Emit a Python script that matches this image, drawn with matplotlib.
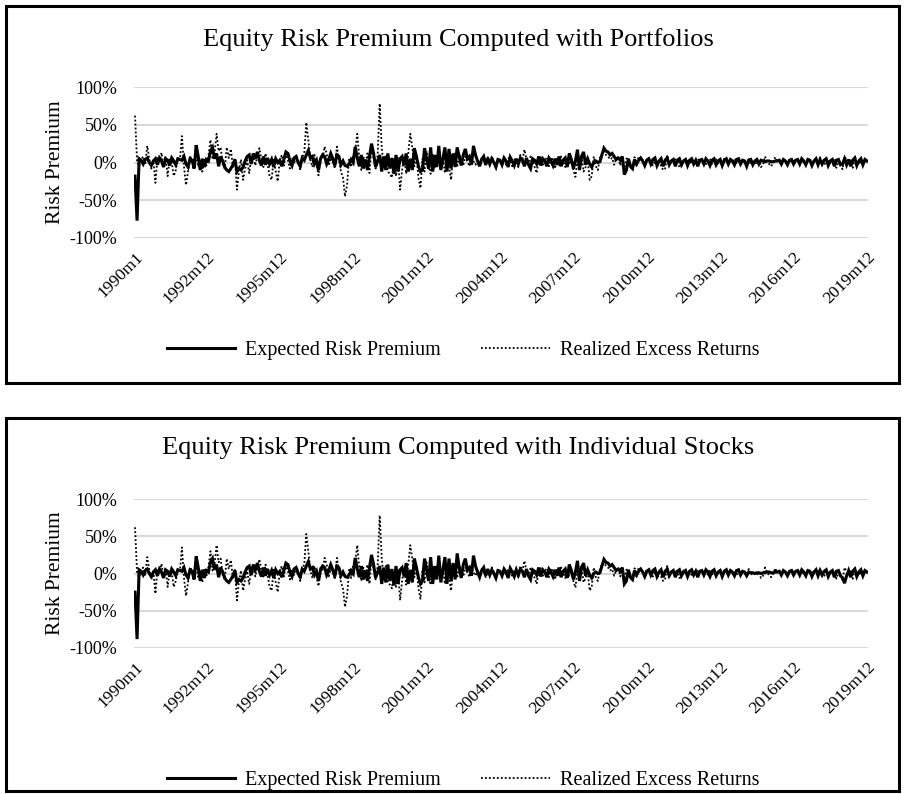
import numpy as np
import matplotlib.pyplot as plt
from matplotlib.patches import Rectangle

plt.rcParams['font.family'] = ['Liberation Serif', 'DejaVu Serif']

# monthly values in percent, 1990m1 .. 2019m12 (one row per year)
realized = [
    62, 2, -5, 4, 8, -3, 22, 5, -8, 3, -27, 6,
    2, 13, -5, 7, -18, 4, 1, -18, -10, 6, 3, 35,
    -5, -30, -12, 8, 4, -3, 10, -6, 2, -12, 5, -4,
    8, 30, 4, 12, 38, 15, 20, -2, -8, 20, 6, 18,
    -6, 5, -36, -10, 4, -23, -8, 3, -14, 6, 10, -4,
    8, 19, 4, -6, 12, -2, -18, -23, 5, -12, -25, 3,
    10, -4, 12, 3, -8, 6, -2, 9, 4, -10, 7, 12,
    53, 30, 4, -6, 10, -3, -17, 8, 5, 21, 12, -4,
    6, 2, -8, 21, 4, -12, -20, -45, -30, 5, -6, 10,
    15, 38, 6, -10, 8, -4, 12, -14, 20, 7, -8, 10,
    78, 20, -6, 10, -12, -15, -20, 4, -18, 6, -36, -10,
    8, -15, 12, 38, 20, -5, 10, -20, -34, 5, -12, 15,
    -6, -15, 10, -8, 4, 12, -10, 6, -14, 10, -5, -23,
    8, 12, -6, 10, 6, -4, 8, 3, -5, 9, 2, -3,
    4, -2, 6, 3, -5, 7, -4, 8, 2, -6, 5, 3,
    -4, 6, -3, 5, 8, -5, 4, 2, -6, 10, 3, 17,
    4, -5, 8, 2, -6, -14, 5, 7, -3, 6, 4, -5,
    7, 3, -8, 5, -4, 8, 2, -6, 4, -3, 6, -10,
    -19, 5, -8, 10, -12, -6, 4, -23, -18, 8, -5, -10,
    6, 12, 15, 10, 8, 4, 6, -3, 5, 8, -4, 6,
    -8, 5, 6, -6, -10, 7, -4, 8, 6, 3, -5, 6,
    3, 2, -4, 2, -5, -3, -4, -10, -8, 10, -2, 1,
    5, 4, 2, -6, -5, 4, 1, 2, 3, -2, 1, 1,
    5, 1, 4, 2, -2, -1, 5, -2, 3, 4, -1, 3,
    -4, 5, 1, 1, 2, 1, 3, -2, 2, 1, 3, 0,
    -3, 6, -2, 1, 1, -2, 2, -6, -3, 8, 1, -2,
    -5, 0, 7, 1, 2, 0, 4, 0, 0, 2, 4, 2,
    2, 4, 0, 1, 1, 1, 2, 0, 2, 2, 3, 1,
    6, -4, -3, 1, 2, 0, 3, 3, -7, 2, -2, -9,
    8, 3, 2, 4, -7, 7, 1, -2, 2, 2, 3, 4,
]

expected_port = [
    -18, -77, 5, 3, -2, 4, 6, 0, -4, 2, 5, -3,
    6, 2, -6, 5, 3, -4, 6, 2, -3, 5, 4, 3,
    8, -2, -6, 5, 3, -8, 23, 8, -10, 5, -6, 4,
    2, 15, 20, 5, 12, -5, 8, 2, -6, -10, -12, -8,
    -3, 4, -12, -8, -10, -6, 2, 8, 10, -2, 12, 5,
    14, 3, -4, 8, -3, 6, -2, 4, -6, 5, 0, 3,
    -5, 4, 14, 12, 2, -4, 6, 8, 0, -5, 6, 3,
    10, 16, 6, 8, -2, 3, -10, 5, 10, 8, -2, 4,
    12, 5, -4, 10, 8, -3, 2, -4, -5, -2, 4, 0,
    21, 6, -5, 10, -8, 4, -10, 8, 25, 12, -6, 2,
    10, -12, 8, -10, 12, -8, 6, -15, 10, -12, 5, 8,
    -4, 12, -12, 5, -10, 19, 8, -5, -12, -10, 19, 5,
    -8, 20, -12, 10, -6, 22, -10, 5, 20, -12, 18, -8,
    12, -6, 20, 8, -4, 10, 18, 5, 8, -3, 22, 10,
    2, -5, 4, 8, -3, 6, -2, 5, 0, -6, 4, 3,
    -3, 6, 2, -6, 7, 2, -4, 5, -2, 6, 3, -5,
    6, -3, -8, 5, 3, -2, 8, -4, 5, 2, -5, 6,
    2, -4, 5, -3, 8, -5, 3, 6, -6, 12, 4, -8,
    2, 17, -10, 8, 14, -3, 5, -2, -6, 0, 2, 0,
    1, 10, 19, 15, 14, 10, 12, 8, 4, 6, 3, 8,
    -16, -10, 5, -5, -8, 4, -2, 3, 6, 2, -4, 3,
    5, -2, 4, 6, -4, 2, 5, -5, 3, 6, -3, 2,
    4, -5, 3, 5, -3, 2, 4, -4, 3, 5, -2, 3,
    -5, 3, 4, -2, 5, 2, -4, 3, 5, -3, 2, 4,
    -4, 3, 5, -2, 4, 2, -3, 4, 5, -2, 3, 2,
    -5, 3, 4, -3, 2, 4, -2, 3, 2, 1, 2, 2,
    1, 1, 2, 2, 3, -2, 4, 2, -3, 3, 4, -2,
    3, 4, -2, 5, 2, -3, 4, 3, -4, 2, 5, -3,
    4, -2, 3, 5, -4, 2, 4, -5, 3, 4, -3, -2,
    5, -3, 4, -5, 3, 6, -4, 2, 5, -3, 4, 2,
]

expected_stock = [
    -25, -88, 5, 3, -2, 4, 6, 0, -4, 2, 5, -3,
    6, 2, -6, 5, 3, -4, 6, 2, -3, 5, 4, 3,
    8, -2, -6, 5, 3, -8, 23, 8, -10, 5, -6, 4,
    2, 15, 20, 5, 12, -5, 8, 2, -6, -10, -12, -8,
    -3, 4, -12, -8, -10, -6, 2, 8, 10, -2, 12, 5,
    14, 3, -4, 8, -3, 6, -2, 4, -6, 5, 0, 3,
    -5, 4, 14, 12, 2, -4, 6, 8, 0, -5, 6, 3,
    10, 16, 6, 8, -2, 3, -10, 5, 10, 8, -2, 4,
    12, 5, -4, 10, 8, -3, 2, -4, -5, -2, 4, 0,
    21, 6, -5, 10, -8, 4, -10, 8, 25, 12, -6, 2,
    10, -14, 8, -12, 12, -10, 6, -16, 10, -14, 5, 8,
    -4, 14, -14, 5, -12, 20, 8, -5, -14, -10, 20, 5,
    -10, 22, -14, 10, -8, 24, -12, 5, 22, -14, 20, -10,
    14, -8, 27, 8, -6, 12, 20, 5, 8, -3, 24, 10,
    2, -5, 4, 8, -3, 6, -2, 5, 0, -6, 4, 3,
    -3, 6, 2, -6, 7, 2, -4, 5, -2, 6, 3, -5,
    6, -3, -8, 5, 3, -2, 8, -4, 5, 2, -5, 6,
    2, -4, 5, -3, 8, -5, 3, 6, -6, 12, 4, -8,
    2, 17, -10, 8, 14, -3, 5, -2, -6, 0, 2, 0,
    1, 10, 19, 15, 14, 10, 12, 8, 4, 6, 3, 8,
    -14, -10, 5, -5, -8, 4, -2, 3, 6, 2, -4, 3,
    5, -2, 4, 6, -4, 2, 5, -5, 3, 6, -3, 2,
    4, -5, 3, 5, -3, 2, 4, -4, 3, 5, -2, 3,
    -5, 3, 4, -2, 5, 2, -4, 3, 5, -3, 2, 4,
    -4, 3, 5, -2, 4, 2, -3, 4, 5, -2, 3, 2,
    -3, 2, 1, 1, 0, 1, 1, 0, 1, 1, 2, 2,
    1, 1, 2, 2, 3, -2, 4, 2, -3, 3, 4, -2,
    3, 4, -2, 5, 2, -3, 4, 3, -4, 2, 5, -3,
    4, -2, 3, 5, -4, 2, 4, -5, 3, 4, -3, -6,
    -13, -3, 4, -5, 3, 6, -4, 2, 5, -3, 4, 2,
]

tick_pos = [0, 35, 71, 107, 143, 179, 215, 251, 287, 323, 359]
tick_labels = ['1990m1', '1992m12', '1995m12', '1998m12', '2001m12', '2004m12',
               '2007m12', '2010m12', '2013m12', '2016m12', '2019m12']
y_ticks = [-1.0, -0.5, 0.0, 0.5, 1.0]
y_labels = ['-100%', '-50%', '0%', '50%', '100%']

titles = ['Equity Risk Premium Computed with Portfolios',
          'Equity Risk Premium Computed with Individual Stocks']

W, H = 906, 794
fig = plt.figure(figsize=(W / 100, H / 100), dpi=100)

def fy(px):
    return 1 - px / H

panels = [
    # axes top/bottom, title y, legend y, box top/bottom (pixels)
    dict(top=87, bot=238, title=40, leg=350, btop=6, bbot=383, exp=expected_port),
    dict(top=499, bot=648, title=448, leg=780, btop=418, bbot=791, exp=expected_stock),
]

months = np.arange(len(realized))

for i, p in enumerate(panels):
    fig.patches.append(Rectangle((6 / W, fy(p['bbot'])), (899 - 6) / W, (p['bbot'] - p['btop']) / H,
                                 transform=fig.transFigure, fill=False, lw=2.2, ec='black'))
    ax = fig.add_axes([134 / W, fy(p['bot']), (868 - 134) / W, (p['bot'] - p['top']) / H])
    exp_vals = np.array(p['exp']) / 100
    real_vals = np.array(realized) / 100
    l1, = ax.plot(months, exp_vals, color='black', lw=2.2, solid_joinstyle='miter')
    l2, = ax.plot(months, real_vals, color='black', lw=1.3, ls=(0, (1, 1.2)))
    ax.set_xlim(-0.5, 359.5)
    ax.set_ylim(-1, 1)
    ax.set_yticks(y_ticks)
    ax.set_yticklabels(y_labels, fontsize=13)
    ax.set_xticks(tick_pos)
    ax.set_xticklabels(tick_labels, rotation=45, ha='right', rotation_mode='anchor', fontsize=12.5)
    ax.tick_params(axis='y', length=0, pad=12)
    ax.tick_params(axis='x', length=0, pad=8)
    ax.grid(axis='y', color='#d9d9d9', lw=1.5)
    ax.set_axisbelow(True)
    for s in ax.spines.values():
        s.set_visible(False)
    ax.set_ylabel('Risk Premium', fontsize=15.5, labelpad=3)
    fig.text(458 / W, fy(p['title']), titles[i], ha='center', va='center', fontsize=19)
    fig.legend([l1, l2], ['Expected Risk Premium', 'Realized Excess Returns'],
               loc='center', bbox_to_anchor=(463 / W, fy(p['leg'])), ncol=2, frameon=False,
               fontsize=14.5, handlelength=3.4, columnspacing=2.0, handletextpad=0.5)

fig.savefig('out.png', dpi=100)
